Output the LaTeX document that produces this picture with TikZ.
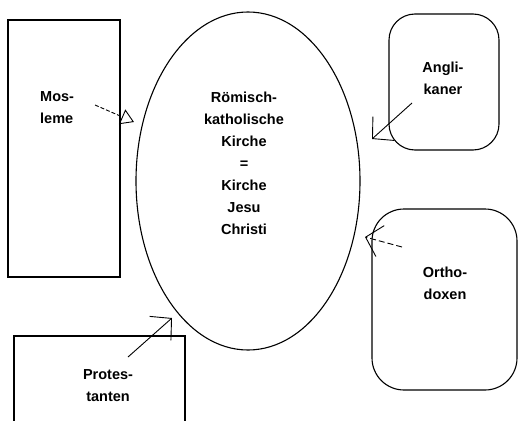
\documentclass[tikz,border=0pt]{standalone}
\usepackage{fontspec}
\setmainfont{Liberation Sans}
\usetikzlibrary{arrows.meta}
\begin{document}
\begin{tikzpicture}[x=1pt,y=-1pt,
  shapeline/.style={draw=black,line width=1.1pt},
  lbl/.style={font=\fontsize{14.5}{22}\selectfont\bfseries,inner sep=0pt},
  conn/.style={draw=black,line width=0.9pt},
  barb/.style={-{Straight Barb[length=15pt,width=32pt,line width=0.9pt]}},
  tri/.style={-{Triangle[open,length=13pt,width=16pt,line width=0.9pt]}}]
\useasboundingbox (0,0) rectangle (518,420);
\clip (0,0) rectangle (518,420);
\fill[white] (0,0) rectangle (518,420);
% shapes
\draw[shapeline] (8,20) rectangle (120,277);
\draw[line width=2.6pt] (8,100) -- (8,277);
\draw[shapeline] (248,181) ellipse [x radius=112, y radius=169];
\draw[shapeline,rounded corners=26pt] (389,14) rectangle (499,150);
\draw[shapeline,rounded corners=32pt] (372,209) rectangle (517,390);
\draw[shapeline] (14,336) rectangle (185,430);
% labels
\node[lbl,align=center] (rk) at (244,163) {Römisch-\\katholische\\Kirche\\=\\Kirche\\Jesu\\Christi};
\node[lbl,align=left,anchor=west] (mo) at (40,108) {Mos-\\leme};
\node[lbl,align=center] (an) at (443,78) {Angli-\\kaner};
\node[lbl,align=center] (or) at (445,283) {Ortho-\\doxen};
\node[lbl,align=center] (pr) at (108,386) {Protes-\\tanten};
% connector ends
\coordinate (moS) at (95,105);
\coordinate (moT) at (134,122);
\coordinate (anS) at (412,103);
\coordinate (anT) at (372,139);
\coordinate (orS) at (402,247);
\coordinate (orT) at (365,237);
\coordinate (prS) at (128,357);
\coordinate (prT) at (172,318);
\draw[conn,tri,dash pattern=on 4pt off 2pt] (moS) -- (moT);
\draw[conn,barb] (anS) -- (anT);
\draw[conn,barb,dash pattern=on 6pt off 3pt] (orS) -- (orT);
\draw[conn,barb] (prS) -- (prT);
\end{tikzpicture}
\end{document}
